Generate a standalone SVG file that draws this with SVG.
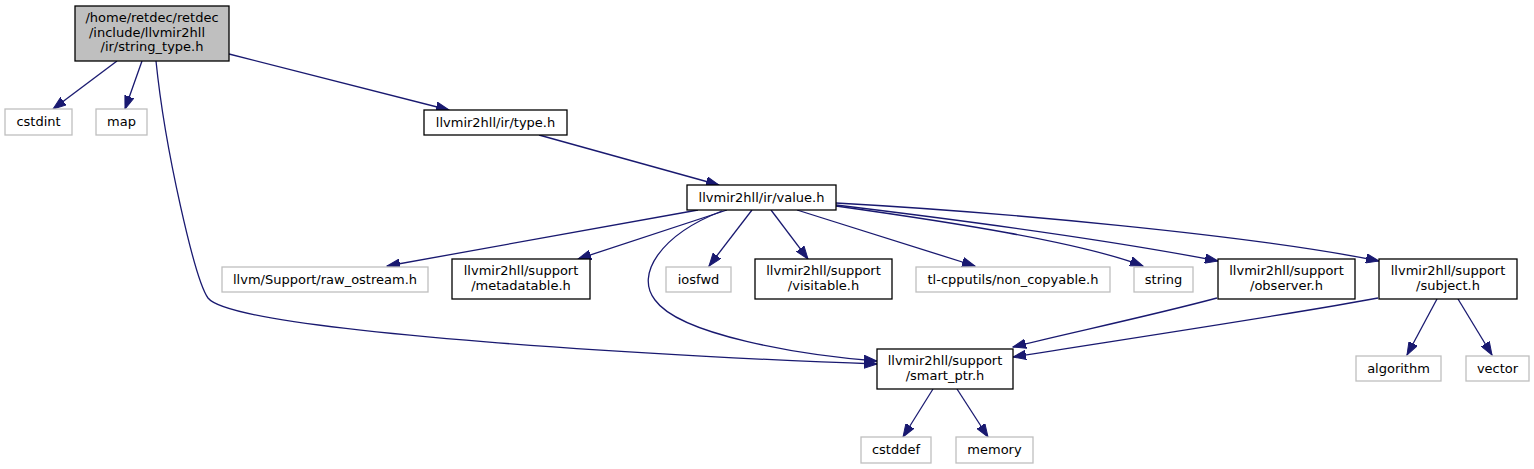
<svg xmlns="http://www.w3.org/2000/svg" width="1534" height="469" viewBox="0 0 1534 469">
<style>
.n rect{fill:#ffffff;stroke:#000000;stroke-width:1.3}
.g rect{fill:#ffffff;stroke:#bfbfbf;stroke-width:1.3}
.r rect{fill:#bfbfbf;stroke:#000000;stroke-width:1.3}
text{font-family:"DejaVu Sans","Liberation Sans",sans-serif;font-size:13px;fill:#000000;text-anchor:middle}
#edges path{fill:none;stroke:#191970;stroke-width:1.3;marker-end:url(#ah)}
</style>
<defs>
<marker id="ah" markerUnits="userSpaceOnUse" markerWidth="14" markerHeight="10" viewBox="0 0 14 10" refX="13" refY="5" orient="auto">
<path d="M0,0.3 L13,5 L0,9.7 z" fill="#191970" stroke="#191970" stroke-width="1"/>
</marker>
</defs>
<rect width="1534" height="469" fill="#ffffff"/>
<g id="edges">
<path d="M117,61 L53,109"/>
<path d="M142,61 L125,109"/>
<path d="M156,61 C165,150 195,280 208,298 C235,333 700,358 877,364"/>
<path d="M229,54 L449,110"/>
<path d="M539,135 L719,185"/>
<path d="M698,210 L387,266"/>
<path d="M727,210 L578,259"/>
<path d="M722,211 C660,235 635,275 655,300 C680,335 800,355 877,361"/>
<path d="M752,210 L709,266"/>
<path d="M771,210 L808,259"/>
<path d="M797,210 L975,266"/>
<path d="M836,206 C950,222 1080,242 1143,266"/>
<path d="M836,205 C960,220 1120,242 1218,261"/>
<path d="M836,203 C1000,212 1250,235 1379,261"/>
<path d="M1217,298 C1150,316 1060,335 1013,347"/>
<path d="M1378,298 C1300,313 1100,343 1013,357"/>
<path d="M1437,299 L1407,355"/>
<path d="M1458,299 L1492,355"/>
<path d="M933,389 L903,437"/>
<path d="M957,389 L988,437"/>
</g>
<g id="root" class="r"><rect x="75" y="6" width="154" height="55"/><text x="152" y="22">/home/retdec/retdec</text><text x="147" y="36.7">/include/llvmir2hll</text><text x="152" y="51.4">/ir/string_type.h</text></g>
<g id="cstdint" class="g"><rect x="5" y="109" width="67" height="26"/><text x="38.5" y="126">cstdint</text></g>
<g id="map" class="g"><rect x="96" y="109" width="51" height="26"/><text x="121.5" y="126">map</text></g>
<g id="type" class="n"><rect x="424" y="110" width="143" height="25"/><text x="495.5" y="127">llvmir2hll/ir/type.h</text></g>
<g id="value" class="n"><rect x="687" y="185" width="149" height="25"/><text x="761.5" y="202">llvmir2hll/ir/value.h</text></g>
<g id="raw_ostream" class="g"><rect x="222" y="267" width="206" height="25"/><text x="325" y="284">llvm/Support/raw_ostream.h</text></g>
<g id="metadatable" class="n"><rect x="452" y="259" width="138" height="40"/><text x="521" y="275">llvmir2hll/support</text><text x="521" y="290">/metadatable.h</text></g>
<g id="iosfwd" class="g"><rect x="666" y="267" width="65" height="25"/><text x="698.5" y="284">iosfwd</text></g>
<g id="visitable" class="n"><rect x="755" y="259" width="137" height="40"/><text x="823.5" y="275">llvmir2hll/support</text><text x="823.5" y="290">/visitable.h</text></g>
<g id="non_copyable" class="g"><rect x="916" y="267" width="194" height="25"/><text x="1013" y="284">tl-cpputils/non_copyable.h</text></g>
<g id="string" class="g"><rect x="1134" y="267" width="59" height="25"/><text x="1163.5" y="284">string</text></g>
<g id="observer" class="n"><rect x="1218" y="259" width="137" height="40"/><text x="1286.5" y="275">llvmir2hll/support</text><text x="1286.5" y="290">/observer.h</text></g>
<g id="subject" class="n"><rect x="1379" y="259" width="138" height="40"/><text x="1448" y="275">llvmir2hll/support</text><text x="1448" y="290">/subject.h</text></g>
<g id="smart_ptr" class="n"><rect x="877" y="349" width="136" height="40"/><text x="945" y="365">llvmir2hll/support</text><text x="945" y="380">/smart_ptr.h</text></g>
<g id="cstddef" class="g"><rect x="861" y="437" width="70" height="26"/><text x="896" y="454">cstddef</text></g>
<g id="memory" class="g"><rect x="956" y="437" width="77" height="26"/><text x="994.5" y="454">memory</text></g>
<g id="algorithm" class="g"><rect x="1356" y="356" width="85" height="25"/><text x="1398.5" y="373">algorithm</text></g>
<g id="vector" class="g"><rect x="1466" y="356" width="63" height="25"/><text x="1497.5" y="373">vector</text></g>
</svg>
